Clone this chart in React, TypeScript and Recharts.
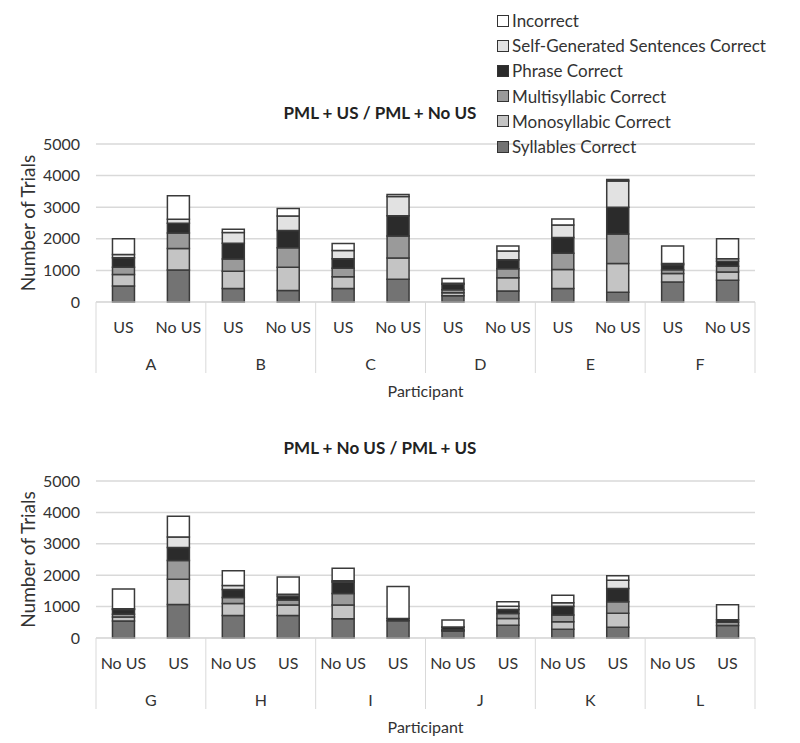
import React from 'react';
import { BarChart, Bar, XAxis, YAxis, CartesianGrid, Legend } from 'recharts';

// groups and bar labels
const topParticipants = ['A', 'B', 'C', 'D', 'E', 'F'];
const topConditions = ['US', 'No US'];
const bottomParticipants = ['G', 'H', 'I', 'J', 'K', 'L'];
const bottomConditions = ['No US', 'US'];

const yTicks = [0, 1000, 2000, 3000, 4000, 5000];

// series, stacked from the bottom up
const seriesKeys = ['syllables', 'mono', 'multi', 'phrase', 'selfGen', 'incorrect'];
const seriesNames = [
  'Syllables Correct',
  'Monosyllabic Correct',
  'Multisyllabic Correct',
  'Phrase Correct',
  'Self-Generated Sentences Correct',
  'Incorrect',
];
const seriesColors = ['#737373', '#c4c4c4', '#9a9a9a', '#2b2b2b', '#e2e2e2', '#ffffff'];

// PML + US / PML + No US  (A US, A No US, B US, ...)
const topSyllables = [510, 1010, 430, 360, 430, 720, 200, 350, 430, 310, 630, 690];
const topMono = [360, 680, 540, 740, 370, 670, 95, 420, 600, 910, 270, 260];
const topMulti = [230, 490, 390, 620, 270, 700, 95, 285, 510, 930, 120, 180];
const topPhrase = [300, 310, 500, 540, 300, 640, 170, 285, 500, 850, 160, 160];
const topSelfGen = [100, 130, 340, 460, 260, 610, 30, 275, 400, 830, 40, 80];
const topIncorrect = [500, 740, 100, 240, 220, 60, 150, 160, 190, 50, 550, 630];

// PML + No US / PML + US  (G No US, G US, H No US, ...)
const bottomSyllables = [540, 1070, 720, 720, 610, 550, 220, 410, 275, 340, 0, 400];
const bottomMono = [130, 800, 380, 330, 440, 0, 20, 210, 245, 445, 0, 0];
const bottomMulti = [90, 600, 190, 160, 370, 0, 20, 160, 210, 370, 0, 100];
const bottomPhrase = [150, 410, 255, 130, 360, 70, 80, 130, 285, 420, 0, 80];
const bottomSelfGen = [20, 340, 130, 50, 40, 0, 10, 105, 105, 265, 0, 0];
const bottomIncorrect = [630, 660, 465, 550, 400, 1020, 220, 140, 245, 140, 0, 480];

const FONT = 'Lato, "Liberation Sans", sans-serif';
const TEXT = '#333333';
const GRID = '#d9d9d9';

function buildRows(participants: string[], conditions: string[], values: number[][]) {
  const rows: any[] = [];
  participants.forEach((p, i) => {
    conditions.forEach((c, j) => {
      const idx = i * conditions.length + j;
      const row: any = {
        key: `${p}-${c}`,
        participant: p,
        condition: c,
        first: j === 0,
      };
      seriesKeys.forEach((k, s) => {
        row[k] = values[s][idx];
      });
      rows.push(row);
    });
  });
  return rows;
}

const topRows = buildRows(topParticipants, topConditions, [
  topSyllables, topMono, topMulti, topPhrase, topSelfGen, topIncorrect,
]);
const bottomRows = buildRows(bottomParticipants, bottomConditions, [
  bottomSyllables, bottomMono, bottomMulti, bottomPhrase, bottomSelfGen, bottomIncorrect,
]);

// two-level category tick: condition on the first row, participant + separators below
const makeTick = (rows: any[]) => (props: any) => {
  const { x, y, payload } = props;
  const idx = rows.findIndex((r) => r.key === payload.value);
  const row = rows[idx];
  if (!row) return null;
  const half = payload.offset || 27.5;
  const isLast = idx === rows.length - 1;
  return (
    <g>
      <text x={x} y={y + 24} textAnchor="middle" dominantBaseline="central" fill={TEXT} fontSize={16} fontFamily={FONT}>
        {row.condition}
      </text>
      {row.first && (
        <text x={x + half} y={y + 61} textAnchor="middle" dominantBaseline="central" fill={TEXT} fontSize={16} fontFamily={FONT}>
          {row.participant}
        </text>
      )}
      {row.first && <line x1={x - half} x2={x - half} y1={y} y2={y + 71} stroke={GRID} strokeWidth={1} />}
      {isLast && <line x1={x + half} x2={x + half} y1={y} y2={y + 71} stroke={GRID} strokeWidth={1} />}
    </g>
  );
};

const yLabel = (p: any) => {
  const vb = p.viewBox;
  const cx = vb.x + 27;
  const cy = vb.y + vb.height / 2;
  return (
    <text x={cx} y={cy} transform={`rotate(-90 ${cx} ${cy})`} textAnchor="middle" dominantBaseline="central" fill={TEXT} fontSize={19} fontFamily={FONT}>
      Number of Trials
    </text>
  );
};

const xLabel = (p: any) => {
  const vb = p.viewBox;
  return (
    <text x={vb.x + vb.width / 2} y={vb.y + 88} textAnchor="middle" dominantBaseline="central" fill={TEXT} fontSize={16} fontFamily={FONT}>
      Participant
    </text>
  );
};

const renderLegend = () => (
  <div style={{ fontFamily: FONT, fontSize: 17, color: TEXT }}>
    {seriesNames
      .map((name, i) => ({ name, color: seriesColors[i] }))
      .reverse()
      .map((item) => (
        <div key={item.name} style={{ display: 'flex', alignItems: 'center', height: 25.2, whiteSpace: 'nowrap' }}>
          <span
            style={{
              display: 'inline-block',
              width: 10,
              height: 10,
              background: item.color,
              border: '1px solid #333',
              marginRight: 3,
            }}
          />
          {item.name}
        </div>
      ))}
  </div>
);

function StackedPanel({ rows, height, marginTop, marginBottom, withLegend }: any) {
  return (
    <BarChart
      width={800}
      height={height}
      data={rows}
      margin={{ top: marginTop, right: 45, bottom: marginBottom, left: 0 }}
      barCategoryGap="30%"
    >
      <CartesianGrid horizontal vertical={false} stroke={GRID} strokeWidth={1.5} />
      <XAxis
        dataKey="key"
        interval={0}
        tickSize={0}
        tickMargin={0}
        height={96}
        axisLine={{ stroke: GRID }}
        tickLine={false}
        tick={makeTick(rows)}
        label={xLabel}
      />
      <YAxis
        width={96}
        domain={[0, 5000]}
        ticks={yTicks}
        interval={0}
        axisLine={false}
        tickLine={false}
        tickSize={0}
        tickMargin={16}
        tick={{ fill: TEXT, fontSize: 16, fontFamily: FONT }}
        label={yLabel}
      />
      {withLegend && (
        <Legend
          layout="vertical"
          align="center"
          verticalAlign="middle"
          content={renderLegend}
          wrapperStyle={{ top: 8, left: 497, width: 300 }}
        />
      )}
      {seriesKeys.map((k, i) => (
        <Bar
          key={k}
          dataKey={k}
          name={seriesNames[i]}
          stackId="a"
          fill={seriesColors[i]}
          stroke="#3a3a3a"
          strokeWidth={1.5}
          isAnimationActive={false}
        />
      ))}
    </BarChart>
  );
}

const titleStyle: React.CSSProperties = {
  position: 'absolute',
  left: 0,
  width: 760,
  textAlign: 'center',
  fontFamily: FONT,
  fontWeight: 700,
  fontSize: 17,
  color: '#222',
  lineHeight: '20px',
};

export default function App() {
  return (
    <div style={{ position: 'absolute', left: 0, top: 0, width: 800, height: 743, background: '#fff', overflow: 'hidden' }}>
      <div style={{ position: 'absolute', left: 0, top: 0 }}>
        <StackedPanel rows={topRows} height={400} marginTop={144} marginBottom={2} withLegend />
      </div>
      <div style={{ position: 'absolute', left: 0, top: 400 }}>
        <StackedPanel rows={bottomRows} height={343} marginTop={81} marginBottom={9} withLegend={false} />
      </div>
      <div style={{ ...titleStyle, top: 103 }}>PML + US / PML + No US</div>
      <div style={{ ...titleStyle, top: 438 }}>PML + No US / PML + US</div>
    </div>
  );
}
